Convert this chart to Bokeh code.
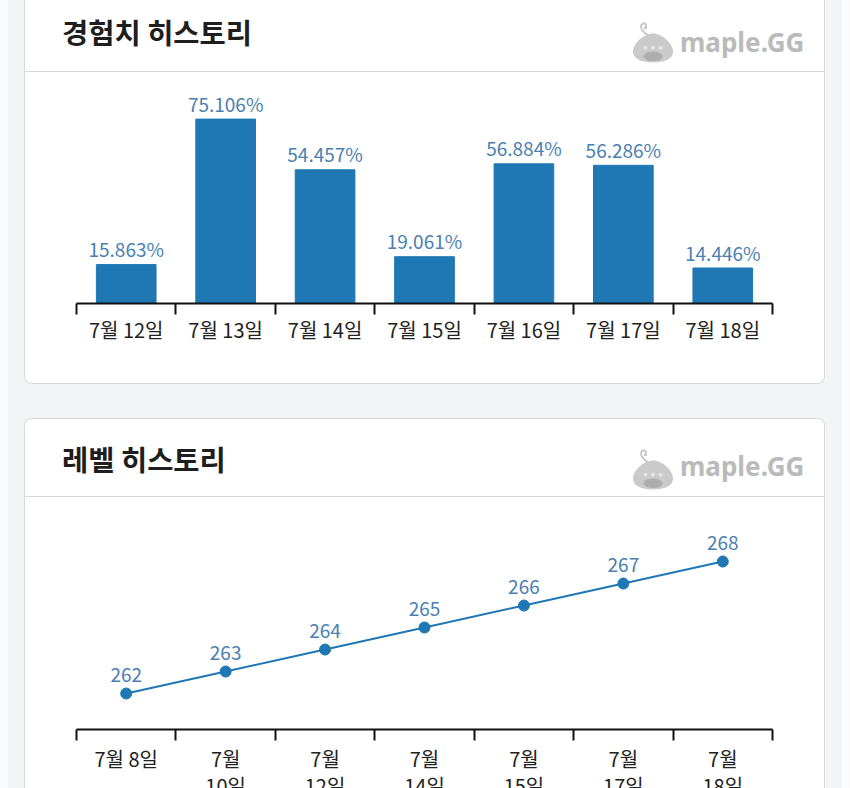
from bokeh.plotting import figure
from bokeh.models import Range1d, FixedTicker, LinearAxis, Div
from bokeh.layouts import column
from bokeh.core.properties import value
from bokeh.embed import file_html
from bokeh.resources import INLINE

# ---------------- data ----------------
exp_days = ["7월 12일", "7월 13일", "7월 14일", "7월 15일", "7월 16일", "7월 17일", "7월 18일"]
exp_values = [15.863, 75.106, 54.457, 19.061, 56.884, 56.286, 14.446]

level_days = ["7월 8일", "7월 10일", "7월 12일", "7월 14일", "7월 15일", "7월 17일", "7월 18일"]
level_values = [262, 263, 264, 265, 266, 267, 268]

exp_title = "경험치 히스토리"
level_title = "레벨 히스토리"
logo_text = "maple.GG"

# ---------------- style ----------------
FONT = "Noto Sans CJK KR"
BLUE = "#1f77b4"
LABEL_BLUE = "#4a80b2"
PAGE_BG = "#f3f4f6"
EDGE_BG = "#fbfbfc"
BORDER = "#d8d8d8"
INNER_W = 799

exp_x = list(range(1, len(exp_days) + 1))
lvl_x = list(range(1, len(level_days) + 1))
exp_text = ["%.3f%%" % v for v in exp_values]
lvl_text = [str(v) for v in level_values]
lvl_ticks = [d if len(d) <= 5 else d.replace(" ", "\n", 1) for d in level_days]


def slime_svg():
    return (
        '<svg width="42" height="44" viewBox="0 0 44 44" xmlns="http://www.w3.org/2000/svg">'
        '<path d="M17 15 C 11 12, 7 5, 11 3 C 14 1.5, 16 5, 14 7" stroke="#c4c4c4" stroke-width="1.8" fill="none"/>'
        '<circle cx="14" cy="7" r="1.6" fill="#c4c4c4"/>'
        '<path d="M22 13 C 32 13, 43 24, 43 32 C 43 40, 34 43.5, 22 43.5 C 10 43.5, 1 40, 1 32 C 1 24, 12 13, 22 13 Z" fill="#cacaca"/>'
        '<circle cx="14" cy="28" r="2.2" fill="#e4e4e4"/><circle cx="22" cy="28" r="2.2" fill="#e4e4e4"/>'
        '<circle cx="30" cy="28" r="2.2" fill="#e4e4e4"/>'
        '<ellipse cx="22" cy="37" rx="10" ry="5" fill="#adadad"/>'
        '</svg>'
    )


def header(title, height, title_top, logo_top, text_top):
    html = (
        f'<div style="position:relative;width:{INNER_W}px;height:{height}px;'
        f'border-bottom:1px solid {BORDER};background:#ffffff;font-family:\'{FONT}\',sans-serif;">'
        f'<div style="position:absolute;left:37px;top:{title_top}px;font-size:28.5px;line-height:29px;'
        f'font-weight:700;color:#1e1e1e;white-space:nowrap;">{title}</div>'
        f'<div style="position:absolute;left:607px;top:{logo_top}px;width:42px;height:44px;">{slime_svg()}</div>'
        f'<div style="position:absolute;left:655px;top:{text_top}px;font-family:\'Noto Sans\',sans-serif;'
        f'font-size:26px;line-height:26px;font-weight:700;color:#bababa;white-space:nowrap;">{logo_text}</div>'
        '</div>'
    )
    return Div(text=html, width=INNER_W, height=height + 1, margin=(0, 0, 0, 0))


def style_axis(ax, ticks, labels, standoff, line_height):
    ax.ticker = FixedTicker(ticks=ticks, minor_ticks=[t - 0.5 for t in ticks] + [ticks[-1] + 0.5])
    ax.major_label_overrides = {t: lab for t, lab in zip(ticks, labels)}
    ax.axis_line_width = 2
    ax.axis_line_color = "#111111"
    ax.major_tick_line_color = None
    ax.major_tick_out = 0
    ax.major_tick_in = 0
    ax.minor_tick_line_color = "#111111"
    ax.minor_tick_line_width = 2
    ax.minor_tick_out = 11
    ax.minor_tick_in = 0
    ax.major_label_standoff = standoff
    ax.major_label_text_font = FONT
    ax.major_label_text_font_size = "20px"
    ax.major_label_text_color = "#222222"
    ax.major_label_text_line_height = line_height


def base_fig(height, y_range, bottom):
    p = figure(width=INNER_W, height=height, x_range=Range1d(0.5, 7.5), y_range=y_range,
               output_backend="svg", toolbar_location=None,
               x_axis_location=None, y_axis_location=None,
               min_border_left=51, min_border_right=52, min_border_top=10,
               min_border_bottom=bottom, margin=(0, 0, 0, 0))
    p.outline_line_color = None
    p.background_fill_color = "#ffffff"
    p.border_fill_color = "#ffffff"
    for g in p.grid:
        g.visible = False
    return p


# ---------------- experience bar chart ----------------
p1 = base_fig(310, Range1d(0, 89.6), 80)
p1.vbar(x=exp_x, top=exp_values, width=0.6, color=BLUE)
p1.text(x=exp_x, y=exp_values, text=exp_text, text_align="center", text_baseline="alphabetic",
        y_offset=-16, text_font=value(FONT), text_font_size="19px", text_color=LABEL_BLUE)
ax1 = LinearAxis()
style_axis(ax1, exp_x, exp_days, 0, 0.98)
p1.add_layout(ax1, "below")

# ---------------- level line chart ----------------
p2 = base_fig(321, Range1d(260.364, 270.41), 90)
p2.line(x=lvl_x, y=level_values, line_width=2, color=BLUE)
p2.scatter(x=lvl_x, y=level_values, size=11, color=BLUE)
p2.text(x=lvl_x, y=level_values, text=lvl_text, text_align="center", text_baseline="alphabetic",
        y_offset=-19, text_font=value(FONT), text_font_size="19px", text_color=LABEL_BLUE)
ax2 = LinearAxis()
style_axis(ax2, lvl_x, lvl_ticks, 3, 0.95)
p2.add_layout(ax2, "below")

# ---------------- cards ----------------
h1 = header(exp_title, 72, 17, 20, 29)
h2 = header(level_title, 78, 25, 28, 34)

card1 = column(h1, p1, margin=(0, 0, 0, 24),
               styles={"background-color": "#ffffff", "border": f"1px solid {BORDER}",
                       "border-top": "none", "border-radius": "0 0 8px 8px", "overflow": "hidden"})
card2 = column(h2, p2, margin=(34, 0, 0, 24),
               styles={"background-color": "#ffffff", "border": f"1px solid {BORDER}",
                       "border-bottom": "none", "border-radius": "8px 8px 0 0", "overflow": "hidden"})

root = column(card1, card2, width=850, height=788,
              styles={"background": f"linear-gradient(to right, {EDGE_BG} 0px, {EDGE_BG} 8px, "
                                    f"{PAGE_BG} 8px, {PAGE_BG} 842px, {EDGE_BG} 842px)",
                      "overflow": "hidden"})

open("out.html", "w").write(file_html(root, INLINE))
